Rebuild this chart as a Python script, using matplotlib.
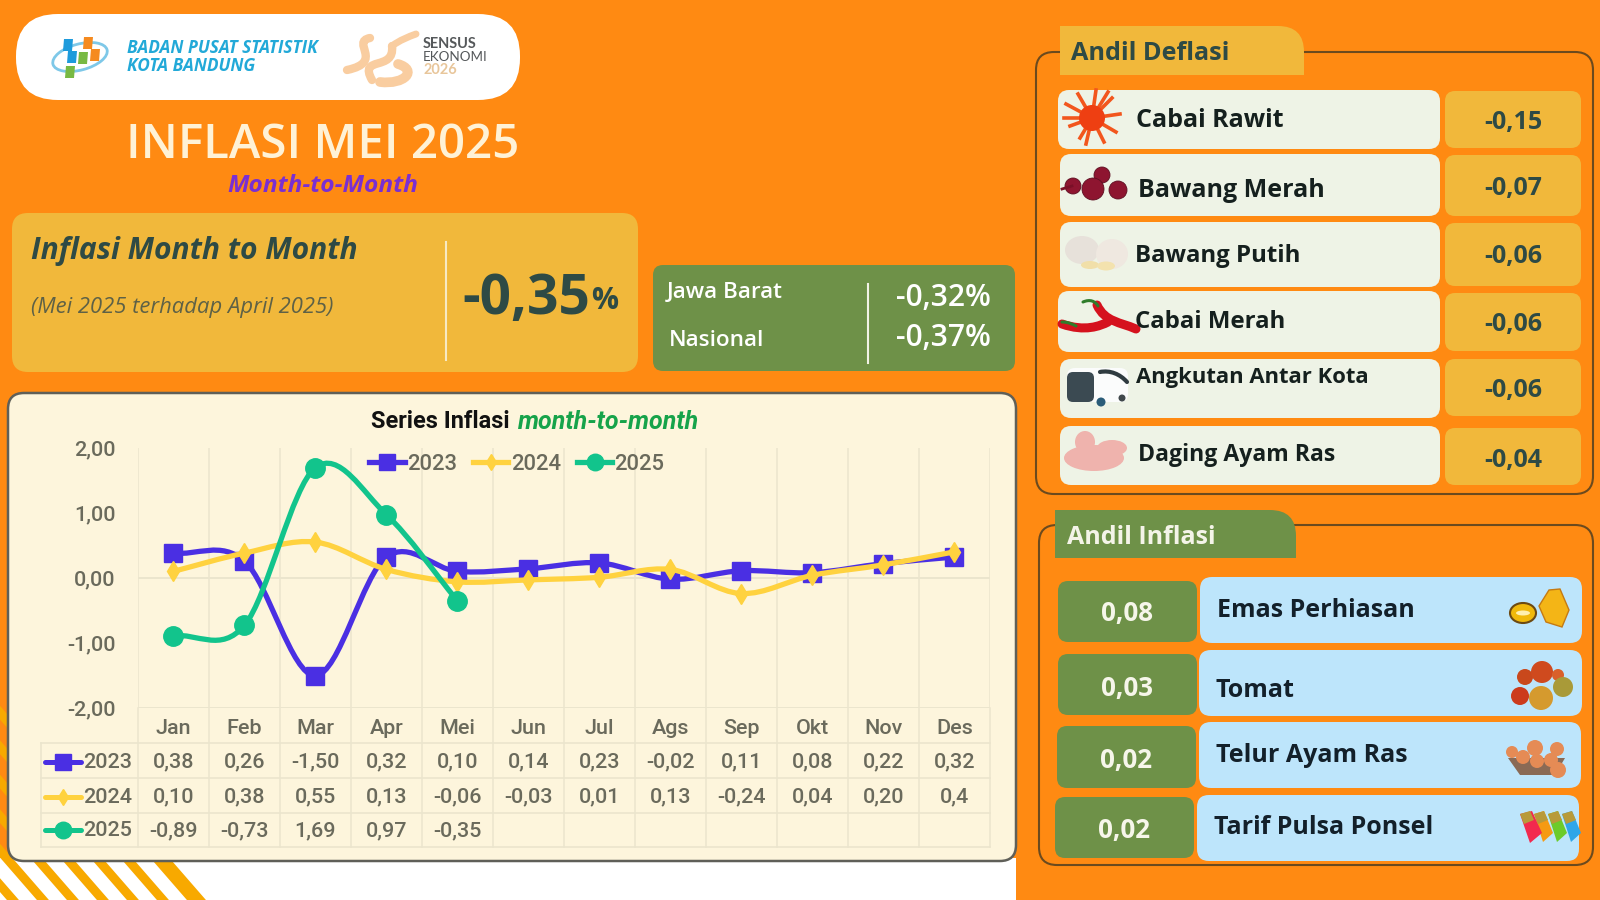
import matplotlib
matplotlib.use("Agg")
import matplotlib.pyplot as plt
from matplotlib.patches import FancyBboxPatch, Polygon, PathPatch, Ellipse, Circle, Rectangle
from matplotlib.path import Path
from matplotlib.lines import Line2D

# ---------- data ----------
months = ["Jan", "Feb", "Mar", "Apr", "Mei", "Jun", "Jul", "Ags", "Sep", "Okt", "Nov", "Des"]
series_2023 = [0.38, 0.26, -1.50, 0.32, 0.10, 0.14, 0.23, -0.02, 0.11, 0.08, 0.22, 0.32]
series_2024 = [0.10, 0.38, 0.55, 0.13, -0.06, -0.03, 0.01, 0.13, -0.24, 0.04, 0.20, 0.40]
series_2025 = [-0.89, -0.73, 1.69, 0.97, -0.35]
table_2024 = ["0,10", "0,38", "0,55", "0,13", "-0,06", "-0,03", "0,01", "0,13", "-0,24", "0,04", "0,20", "0,4"]
y_ticks = [-2, -1, 0, 1, 2]
deflasi_names = ["Cabai Rawit", "Bawang Merah", "Bawang Putih", "Cabai Merah", "Angkutan Antar Kota", "Daging Ayam Ras"]
deflasi_values = [-0.15, -0.07, -0.06, -0.06, -0.06, -0.04]
inflasi_names = ["Emas Perhiasan", "Tomat", "Telur Ayam Ras", "Tarif Pulsa Ponsel"]
inflasi_values = [0.08, 0.03, 0.02, 0.02]

# ---------- colours ----------
ORANGE = "#FF8A12"
YELLOW = "#F1B83B"
GREEN = "#6E9148"
CREAM = "#FDF5DC"
DARK = "#2E4A45"
GREY = "#6A6A5C"
GRID = "#EBE5CD"
C23, C24, C25 = "#4A2FE3", "#FFD23F", "#12C48C"
STRIPE = "#F8A900"

plt.rcParams["font.family"] = ["Open Sans", "DejaVu Sans"]
def fs(px):
    return px * 0.72
def comma(v, plus=False):
    return f"{v:.2f}".replace(".", ",")

fig = plt.figure(figsize=(16, 9), dpi=100, facecolor=ORANGE)
bg = fig.add_axes([0, 0, 1, 1], zorder=0)
bg.set_xlim(0, 1600); bg.set_ylim(900, 0); bg.axis("off")

def rbox(x0, y0, x1, y1, r, fc, ec="none", lw=0, z=2, ax=bg):
    p = FancyBboxPatch((x0 + r, y0 + r), x1 - x0 - 2 * r, y1 - y0 - 2 * r,
                       boxstyle=f"round,pad={r},rounding_size={r}", fc=fc, ec=ec, lw=lw, zorder=z)
    ax.add_patch(p)
    return p

def T(x, y, s, px, color="black", weight="normal", style="normal", ha="left", va="center", z=6, fam=None):
    kw = {"family": fam} if fam else {}
    dy = 0.04 * px if fam else 0.1 * px
    return bg.text(x, y + dy, s, fontsize=fs(px), color=color, fontweight=weight, fontstyle=style,
                   ha=ha, va=va, zorder=z, **kw)

def curve(pts, color, lw, z=5, cap="round"):
    verts = [pts[0]]; codes = [Path.MOVETO]
    for i in range(1, len(pts) - 2, 3):
        verts += pts[i:i + 3]; codes += [Path.CURVE4] * 3
    bg.add_patch(PathPatch(Path(verts, codes), fc="none", ec=color, lw=lw, capstyle=cap, zorder=z))

# ---------- white bottom strip with diagonal stripes ----------
bg.add_patch(Rectangle((0, 858), 1016, 42, fc="white", ec="none", zorder=1))
for k in range(-6, 5):
    x0 = 33 + 30 * k
    w = 12 if k < 4 else 19
    ys0, ys1 = 705, 900
    sl = 0.87
    bg.add_patch(Polygon([(x0 + (ys0 - 861) * sl, ys0), (x0 + w + (ys0 - 861) * sl, ys0),
                          (x0 + w + (ys1 - 861) * sl, ys1), (x0 + (ys1 - 861) * sl, ys1)],
                         fc=STRIPE, ec="none", zorder=1.5))

# ---------- logo pill ----------
rbox(16, 14, 520, 100, 42, "white")
for (cx, cy, c) in [(68, 45, "#1E9BDC"), (88, 43, "#F58A1F"), (72, 57, "#1E9BDC"),
                    (95, 55, "#F58A1F"), (83, 58, "#78B943"), (70, 72, "#78B943")]:
    bg.add_patch(Polygon([(cx - 4, cy - 6), (cx + 5, cy - 6), (cx + 4, cy + 6), (cx - 5, cy + 6)], fc=c, ec="none", zorder=4))
bg.add_patch(Ellipse((80, 57), 56, 26, angle=-15, fc="none", ec="#7EC8E8", lw=2, zorder=3))
T(127, 46, "BADAN PUSAT STATISTIK", 17.3, "#22A9D8", "bold", "italic")
T(127, 64, "KOTA BANDUNG", 17.3, "#22A9D8", "bold", "italic")
PEACH = "#F9CDA0"
curve([(347, 70), (385, 62), (350, 42), (370, 38)], PEACH, 6)
curve([(372, 80), (358, 55), (395, 72), (392, 46)], PEACH, 6)
curve([(380, 82), (405, 85), (418, 70), (398, 64)], PEACH, 7)
curve([(392, 46), (400, 40), (408, 37), (416, 34)], PEACH, 5)
T(423, 43, "SENSUS", 14.5, "#55585A", "bold", fam="Lato")
T(423, 56, "EKONOMI", 13.5, "#55585A", "normal", fam="Lato")
T(423, 69, "2026", 14.5, "#E8C69B", "bold", fam="Lato")

# ---------- heading ----------
T(323, 141, "INFLASI MEI 2025", 47.5, "#FFF2D6", "semibold", ha="center")
T(323, 184, "Month-to-Month", 24.5, "#7A2FD2", "bold", "italic", ha="center")

# ---------- headline boxes ----------
rbox(12, 213, 638, 372, 16, YELLOW)
T(31, 248, "Inflasi Month to Month", 30, DARK, "bold", "italic")
T(31, 305, "(Mei 2025 terhadap April 2025)", 22, "#5E6146", "normal", "italic")
bg.plot([445.5, 445.5], [242, 360], color="#F7E9C4", lw=1.5, zorder=4)
T(462, 294, comma(-0.35), 55, DARK, "bold")
T(591, 298, "%", 30, DARK, "bold")
rbox(653, 265, 1015, 371, 10, GREEN)
T(667, 290, "Jawa Barat", 22.5, "white", "semibold")
T(669, 338, "Nasional", 22.5, "white", "semibold")
bg.plot([868, 868], [284, 363], color="#F2F2E6", lw=1.5, zorder=4)
T(991, 295, comma(-0.32) + "%", 30, "white", "semibold", ha="right")
T(991, 335, comma(-0.37) + "%", 30, "white", "semibold", ha="right")

# ---------- chart card ----------
rbox(8, 393, 1016, 861, 16, CREAM, ec="#5F5F58", lw=1.8, z=2)
title_a = T(371, 421, "Series Inflasi", 23.5, "#111111", "bold", fam="Roboto")
T(518, 421, "month-to-month", 25, "#16A34A", "bold", "italic", fam="Roboto")

# chart axes
L, R, TOP, BOT = 137.8, 990, 447.5, 708.3
ax = fig.add_axes([L / 1600, (900 - BOT) / 900, (R - L) / 1600, (BOT - TOP) / 900], zorder=3)
ax.patch.set_alpha(0)
ax.set_xlim(-0.5, 11.5); ax.set_ylim(-2, 2)
for s in ax.spines.values():
    s.set_visible(False)
ax.set_xticks(range(12)); ax.set_xticklabels(months)
ax.set_yticks(y_ticks); ax.set_yticklabels([comma(v) for v in y_ticks])
ax.tick_params(axis="both", length=0, labelcolor=GREY, labelsize=fs(21.5))
ax.tick_params(axis="x", pad=7.5); ax.tick_params(axis="y", pad=16)
for lb in ax.get_xticklabels() + ax.get_yticklabels():
    lb.set_family("Roboto"); lb.set_fontweight("medium")
for yv in (0, -2):
    ax.axhline(yv, color=GRID, lw=1.4, zorder=1)
for i in range(13):
    ax.axvline(i - 0.5, color=GRID, lw=1.1, zorder=1)

def smooth(vals):
    n = len(vals)
    m = []
    for i in range(n):
        if i == 0:
            m.append(vals[1] - vals[0])
        elif i == n - 1:
            m.append(vals[-1] - vals[-2])
        else:
            m.append((vals[i + 1] - vals[i - 1]) / 2)
    verts = [(0, vals[0])]; codes = [Path.MOVETO]
    for i in range(n - 1):
        verts += [(i + 1 / 3, vals[i] + m[i] / 3), (i + 2 / 3, vals[i + 1] - m[i + 1] / 3), (i + 1, vals[i + 1])]
        codes += [Path.CURVE4] * 3
    return Path(verts, codes)

styles = [("2023", series_2023, C23, "s", 13), ("2024", series_2024, C24, "d", 10), ("2025", series_2025, C25, "o", 14)]
handles = []
for z, (name, vals, col, mk, ms) in enumerate(styles):
    ax.add_patch(PathPatch(smooth(vals), fc="none", ec=col, lw=3.8, capstyle="round", zorder=4 + z))
    ax.plot(range(len(vals)), vals, ls="none", marker=mk, ms=ms, mfc=col, mec=col, zorder=4 + z)
    handles.append(Line2D([0], [0], color=col, lw=3.8, marker=mk, ms=ms * 0.85, mfc=col, mec=col, label=name))
leg = ax.legend(handles=handles, ncol=3, frameon=False, loc="center", bbox_to_anchor=((517 - L) / (R - L), (BOT - 464) / (BOT - TOP)),
                handlelength=1.6, handletextpad=0.1, columnspacing=0.75, fontsize=fs(22), borderpad=0)
for t in leg.get_texts():
    t.set_color(GREY); t.set_family("Roboto"); t.set_fontweight("medium")

# data table below the chart
band = (R - L) / 12
row_y = [743, 778, 812.7, 846.7]
for yy in row_y:
    bg.plot([40.6, R], [yy, yy], color=GRID, lw=1.2, zorder=3)
bg.plot([40.6, 40.6], [743, 846.7], color=GRID, lw=1.2, zorder=3)
for i in range(13):
    bg.plot([L + i * band] * 2, [708.3, 846.7], color=GRID, lw=1.1, zorder=3)
table_rows = [[comma(v) for v in series_2023], table_2024, [comma(v) for v in series_2025]]
for (name, vals, col, mk, ms), labels, yy in zip(styles, table_rows, (761.5, 796.5, 830)):
    bg.plot([45, 81], [yy, yy], color=col, lw=3.6, solid_capstyle="round", zorder=5)
    bg.plot([63], [yy], ls="none", marker=mk, ms=ms * 0.85, color=col, zorder=6)
    T(83, yy, name, 21.5, GREY, "medium", fam="Roboto")
    for i, lab in enumerate(labels):
        T(L + band * (i + 0.5), yy, lab, 21.5, GREY, "medium", ha="center", fam="Roboto")

# ---------- Andil Deflasi ----------
def tab(x0, y0, x1, y1, r, fc):
    verts = [(x0, y1), (x0, y0), (x1 - r, y0), (x1, y0), (x1, y0 + r), (x1, y1), (x0, y1)]
    codes = [Path.MOVETO, Path.LINETO, Path.LINETO, Path.CURVE3, Path.CURVE3, Path.LINETO, Path.CLOSEPOLY]
    bg.add_patch(PathPatch(Path(verts, codes), fc=fc, ec="none", zorder=3))

OUT = "#6B4A1E"
rbox(1036, 52, 1593, 494, 18, "none", ec=OUT, lw=1.5, z=2)
tab(1060, 26, 1304, 75, 26, YELLOW)
T(1071, 51, "Andil Deflasi", 25.3, DARK, "bold")
row_rect = [(1058, 90, 149), (1060, 154, 216), (1060, 222, 287), (1058, 291, 352), (1060, 359, 418), (1060, 426, 485)]
val_rect = [(1445, 91, 148), (1445, 155, 216), (1445, 223, 286), (1445, 293, 351), (1445, 359, 416), (1445, 428, 485)]
txt_pos = [(1136, 118), (1138, 188), (1135, 254), (1135, 320), (1136, 375), (1138, 453)]
txt_px = [25, 25, 24, 24, 22, 23]
val_y = [120.5, 186.5, 254, 322.5, 388.5, 457.5]
for (x, y0, y1), (vx, vy0, vy1), (tx, ty), tp, vy, n, v in zip(row_rect, val_rect, txt_pos, txt_px, val_y, deflasi_names, deflasi_values):
    rbox(x, y0, 1440, y1, 11, "#EEF3E6")
    rbox(vx, vy0, 1581, vy1, 10, YELLOW)
    T(tx, ty, n, tp, "#15201E", "bold", z=7)
    T(1513, vy, comma(v), 25, DARK, "bold", ha="center")

# small drawn icons, deflasi
for ang_pt in [(-26, -14), (-22, 8), (-14, -24), (-6, 26), (4, -28), (12, 24), (20, -20), (28, -4), (24, 14), (-28, 0), (-12, 20), (16, -26)]:
    bg.plot([1092, 1092 + ang_pt[0]], [118, 118 + ang_pt[1]], color="#F2561D", lw=2.6, zorder=5)
bg.add_patch(Circle((1092, 118), 13, fc="#EE3F12", ec="none", zorder=5))
for (cx, cy, r) in [(1102, 175, 8), (1093, 189, 11), (1118, 190, 9), (1073, 186, 8)]:
    bg.add_patch(Circle((cx, cy), r, fc="#8E1530", ec="#5E0F22", lw=0.6, zorder=5))
bg.plot([1062, 1072], [189, 186], color="#7A1028", lw=2, zorder=5)
for (cx, cy, w, h, c) in [(1082, 250, 34, 28, "#E7E1DA"), (1112, 254, 32, 30, "#EFE8E0"), (1090, 265, 18, 8, "#F1DFA9"), (1106, 266, 18, 9, "#F3E2AE")]:
    bg.add_patch(Ellipse((cx, cy), w, h, fc=c, ec="none", zorder=5))
curve([(1062, 324), (1085, 332), (1100, 326), (1108, 322)], "#D5121E", 6.5)
curve([(1097, 305), (1105, 322), (1120, 322), (1136, 329)], "#D5121E", 6.5)
curve([(1062, 322), (1068, 322), (1072, 324), (1076, 326)], "#2F7D2B", 2.2, z=6)
curve([(1083, 302), (1090, 299), (1095, 301), (1098, 306)], "#2F7D2B", 2.2, z=6)
rbox(1067, 368, 1128, 402, 8, "#FBFCFC", z=4)
rbox(1067, 372, 1094, 402, 6, "#3B4A52", z=5)
curve([(1100, 372), (1110, 370), (1120, 374), (1127, 382)], "#2F3B40", 3, z=6)
bg.add_patch(Circle((1101, 402), 4.5, fc="#2A5C78", ec="none", zorder=6))
bg.add_patch(Circle((1122, 398), 3.5, fc="#40484C", ec="none", zorder=6))
for (cx, cy, w, h) in [(1094, 458, 60, 26), (1112, 448, 30, 16), (1085, 442, 20, 22)]:
    bg.add_patch(Ellipse((cx, cy), w, h, fc="#EFB3AD", ec="none", zorder=5))

# ---------- Andil Inflasi ----------
rbox(1039, 525, 1593, 865, 18, "none", ec=OUT, lw=1.5, z=2)
tab(1055, 510, 1296, 558, 26, GREEN)
T(1067, 535, "Andil Inflasi", 25, "#F4F4E8", "bold")
left_rect = [(1058, 1197, 581, 642), (1058, 1197, 654, 715), (1057, 1196, 726, 788), (1055, 1194, 797, 858)]
right_rect = [(1200, 1582, 577, 643), (1199, 1582, 650, 716), (1199, 1581, 722, 788), (1197, 1579, 795, 861)]
label_pos = [(1217, 608), (1216, 688), (1216, 753), (1214, 825)]
vals_pos = [(1127, 611), (1127, 686), (1126, 758), (1124, 828)]
for lr, rr, lp, vp, n, v in zip(left_rect, right_rect, label_pos, vals_pos, inflasi_names, inflasi_values):
    rbox(lr[0], lr[2], lr[1], lr[3], 10, GREEN)
    rbox(rr[0], rr[2], rr[1], rr[3], 12, "#BDE5FB")
    T(lp[0], lp[1], n, 25, "#13202A", "bold")
    T(vp[0], vp[1], comma(v), 26, "#F6F6EA", "bold", ha="center")

# small drawn icons, inflasi
bg.add_patch(Ellipse((1523, 613), 26, 20, fc="#F0B90B", ec="#6C4A12", lw=1.5, zorder=5))
bg.add_patch(Ellipse((1523, 613), 14, 5, fc="#FFF0B0", ec="none", zorder=6))
bg.add_patch(Polygon([(1549, 590), (1560, 589), (1569, 610), (1562, 627), (1546, 622), (1539, 606)], fc="#F4B516", ec="#C57A12", lw=1, zorder=5))
for (cx, cy, r, c) in [(1525, 677, 8, "#C9481C"), (1542, 672, 11, "#CF4A1E"), (1558, 675, 6, "#D9602A"), (1520, 696, 9, "#CC3B1C"),
                       (1541, 698, 12, "#D59A2E"), (1563, 687, 10, "#A99A38")]:
    bg.add_patch(Circle((cx, cy), r, fc=c, ec="none", zorder=5))
bg.add_patch(Polygon([(1508, 758), (1565, 758), (1555, 775), (1520, 775)], fc="#8A6A55", ec="none", zorder=5))
for (cx, cy, r) in [(1512, 752, 6), (1523, 757, 7), (1535, 748, 8), (1537, 761, 7), (1551, 760, 7), (1557, 749, 7), (1558, 770, 8)]:
    bg.add_patch(Circle((cx, cy), r, fc="#E58B55", ec="none", zorder=6))
for i, c in enumerate(["#F2294E", "#F59A12", "#6CCB2A", "#2FA6E8"]):
    x = 1520 + i * 14
    bg.add_patch(Polygon([(x, 814), (x + 12, 811), (x + 22, 833), (x + 10, 843)] if i == 0 else
                         [(x, 814), (x + 10, 811), (x + 19, 833), (x + 9, 842)], fc=c, ec="none", zorder=8 - i))
    bg.add_patch(Polygon([(x, 814), (x + 10, 811), (x + 14, 820), (x + 4, 824)], fc="#B89A3A", ec="none", zorder=9))

fig.savefig("out.png", dpi=100, facecolor=fig.get_facecolor())
